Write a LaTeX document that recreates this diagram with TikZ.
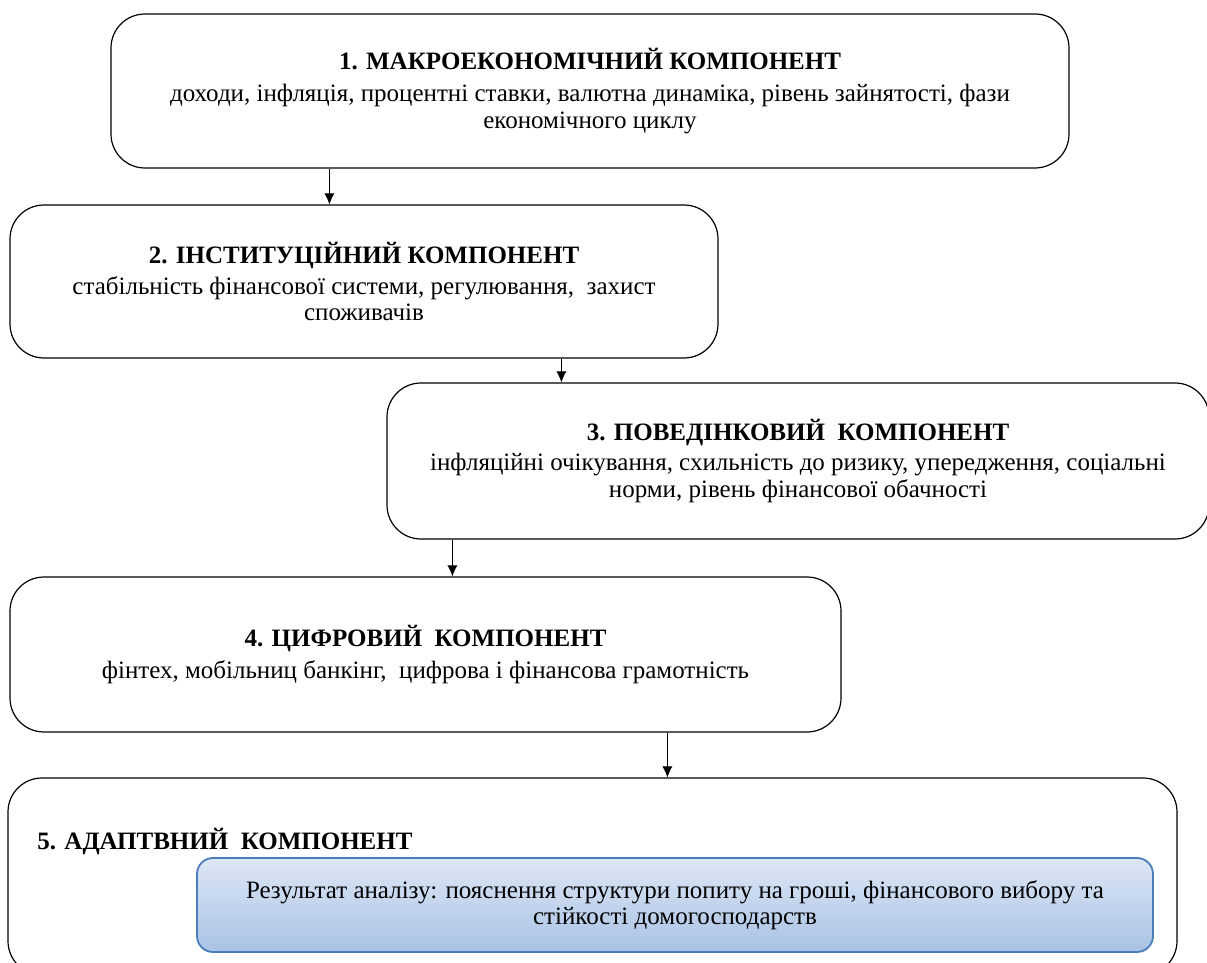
\documentclass[tikz,border=0pt]{standalone}
\usepackage{fontspec}
\setmainfont{Liberation Serif}[Ligatures=TeX]
\usepackage{xcolor}
\usetikzlibrary{calc, positioning, arrows.meta}
\definecolor{resfill1}{HTML}{DDE7F5}
\definecolor{resfill2}{HTML}{A8C2E5}
\definecolor{resdraw}{HTML}{4A7EBB}

\begin{document}
\begin{tikzpicture}[x=0.5pt, y=-0.5pt, >={Latex[length=5.5pt, width=5pt]},
    comp/.style={draw=black, line width=0.6pt, rounded corners=17pt, align=center,
                 font=\fontsize{12.5}{13.2}\selectfont, inner sep=0pt},
    result/.style={draw=resdraw, line width=0.9pt, rounded corners=8pt, align=center,
                   top color=resfill1, bottom color=resfill2,
                   font=\fontsize{12.5}{13.2}\selectfont}]
    % Frame
    \useasboundingbox (0,0) rectangle (1207,963);

    % Components
    \node[comp, minimum width=479pt, minimum height=77pt] (mac) at (590,91)
        {\textbf{1. МАКРОЕКОНОМІЧНИЙ КОМПОНЕНТ}\\[3pt]доходи, інфляція, процентні ставки, валютна динаміка, рівень зайнятості, фази\\економічного циклу};
    \node[comp, minimum width=354pt, minimum height=76.5pt] (inst) at (364,281.5)
        {\textbf{2. ІНСТИТУЦІЙНИЙ КОМПОНЕНТ}\\[2pt]стабільність фінансової системи, регулювання,\ \ захист\\споживачів};
    \node[comp, minimum width=411pt, minimum height=78pt] (beh) at (798,461)
        {\textbf{3. ПОВЕДІНКОВИЙ\ \ КОМПОНЕНТ}\\[2pt]інфляційні очікування, схильність до ризику, упередження, соціальні\\норми, рівень фінансової обачності};
    \node[comp, minimum width=415.5pt, minimum height=77.5pt] (dig) at (425.5,654.5)
        {\textbf{4. ЦИФРОВИЙ\ \ КОМПОНЕНТ}\\[3pt]фінтех, мобільниц банкінг,\ \ цифрова і фінансова грамотність};
    \node[comp, minimum width=584.5pt, minimum height=98.5pt] (adp) at (592.5,876.5) {};
    % Text
    \node[font=\fontsize{12.5}{13.2}\selectfont\bfseries, anchor=west, inner sep=0pt] (adpt) at (37,842)
        {5. АДАПТВНИЙ\ \ КОМПОНЕНТ};
    % Result
    \node[result, minimum width=478pt, minimum height=47pt] (res) at (675,905)
        {Результат аналізу: пояснення структури попиту на гроші, фінансового вибору та\\стійкості домогосподарств};

    % Arrows
    \draw[->] (mac.south west) ++(109.5pt,0) coordinate (a1) -- (a1 |- inst.north);
    \draw[->] (inst.south west) ++(276pt,0) coordinate (a2) -- (a2 |- beh.north);
    \draw[->] (beh.south west) ++(33pt,0) coordinate (a3) -- (a3 |- dig.north);
    \draw[->] (dig.south west) ++(329pt,0) coordinate (a4) -- (a4 |- adp.north);
\end{tikzpicture}
\end{document}
